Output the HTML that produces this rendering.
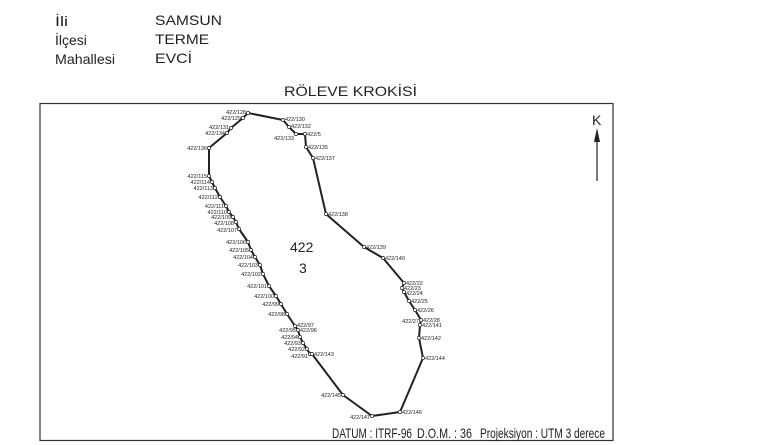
<!DOCTYPE html>
<html><head><meta charset="utf-8"><style>
html,body{margin:0;padding:0;background:#fff;}
svg{display:block;}
.h{font-family:"Liberation Sans",sans-serif;font-size:14px;fill:#222;}
.l{font-family:"Liberation Sans",sans-serif;font-size:5.5px;fill:#222;}
</style></head><body>
<svg width="772" height="445" viewBox="0 0 772 445" xmlns="http://www.w3.org/2000/svg">
<text class="h" x="55" y="26" textLength="13" lengthAdjust="spacingAndGlyphs">İli</text>
<text class="h" x="55" y="45">İlçesi</text>
<text class="h" x="55" y="64" textLength="60" lengthAdjust="spacingAndGlyphs">Mahallesi</text>
<text class="h" x="155" y="25" textLength="67" lengthAdjust="spacingAndGlyphs">SAMSUN</text>
<text class="h" x="155" y="44" textLength="54" lengthAdjust="spacingAndGlyphs">TERME</text>
<text class="h" x="155" y="63" textLength="37" lengthAdjust="spacingAndGlyphs">EVCİ</text>
<text class="h" x="284" y="96" font-size="17" textLength="133" lengthAdjust="spacingAndGlyphs">RÖLEVE KROKİSİ</text>
<rect x="40" y="103.5" width="573" height="337" fill="none" stroke="#333" stroke-width="1.2"/>
<text class="h" x="592" y="125" font-size="11">K</text>
<line x1="597" y1="140" x2="597" y2="181" stroke="#222" stroke-width="1.2"/>
<polygon points="597,128 594,142 600,142" fill="#222"/>
<text class="h" x="290" y="252" font-size="14">422</text>
<text class="h" x="299" y="273" font-size="14">3</text>
<text class="h" x="332" y="438" font-size="10" textLength="80" lengthAdjust="spacingAndGlyphs">DATUM : ITRF-96</text>
<text class="h" x="417" y="438" font-size="10" textLength="55" lengthAdjust="spacingAndGlyphs">D.O.M. : 36</text>
<text class="h" x="480" y="438" font-size="10" textLength="125" lengthAdjust="spacingAndGlyphs">Projeksiyon : UTM 3 derece</text>
<polyline fill="none" stroke="#222" stroke-width="2" stroke-linejoin="round" points="248,113 243,118 231,128 227,133 209,148 209,176 212,182 215,188 220,197 226,206 229,212 233,217 236,222 239,229 248,242 251,250 255,257 260,265 263,274 269,286 276,296 281,304 287,314 295,326 298,330 300,337 303,343 307,349 310,354 312,354 343,395 372,416 400,412 423,358 419,338 420,325 421,320 415,310 409,301 404,292 402,288 404,283 383,258 364,247 326,214 313,158 306,147 305,134 296,134 289,127 283,120 248,113"/>
<g fill="#fff" stroke="#222" stroke-width="0.7">
<circle cx="248" cy="113" r="1.6"/><circle cx="243" cy="118" r="1.6"/><circle cx="231" cy="128" r="1.6"/><circle cx="227" cy="133" r="1.6"/><circle cx="209" cy="148" r="1.6"/><circle cx="209" cy="176" r="1.6"/><circle cx="212" cy="182" r="1.6"/><circle cx="215" cy="188" r="1.6"/><circle cx="220" cy="197" r="1.6"/><circle cx="226" cy="206" r="1.6"/><circle cx="229" cy="212" r="1.6"/><circle cx="233" cy="217" r="1.6"/><circle cx="236" cy="222" r="1.6"/><circle cx="239" cy="229" r="1.6"/><circle cx="248" cy="242" r="1.6"/><circle cx="251" cy="250" r="1.6"/><circle cx="255" cy="257" r="1.6"/><circle cx="260" cy="265" r="1.6"/><circle cx="263" cy="274" r="1.6"/><circle cx="269" cy="286" r="1.6"/><circle cx="276" cy="296" r="1.6"/><circle cx="281" cy="304" r="1.6"/><circle cx="287" cy="314" r="1.6"/><circle cx="295" cy="326" r="1.6"/><circle cx="298" cy="330" r="1.6"/><circle cx="300" cy="337" r="1.6"/><circle cx="303" cy="343" r="1.6"/><circle cx="307" cy="349" r="1.6"/><circle cx="310" cy="354" r="1.6"/><circle cx="312" cy="354" r="1.6"/><circle cx="343" cy="395" r="1.6"/><circle cx="372" cy="416" r="1.6"/><circle cx="400" cy="412" r="1.6"/><circle cx="423" cy="358" r="1.6"/><circle cx="419" cy="338" r="1.6"/><circle cx="420" cy="325" r="1.6"/><circle cx="421" cy="320" r="1.6"/><circle cx="415" cy="310" r="1.6"/><circle cx="409" cy="301" r="1.6"/><circle cx="404" cy="292" r="1.6"/><circle cx="402" cy="288" r="1.6"/><circle cx="404" cy="283" r="1.6"/><circle cx="383" cy="258" r="1.6"/><circle cx="364" cy="247" r="1.6"/><circle cx="326" cy="214" r="1.6"/><circle cx="313" cy="158" r="1.6"/><circle cx="306" cy="147" r="1.6"/><circle cx="305" cy="134" r="1.6"/><circle cx="296" cy="134" r="1.6"/><circle cx="289" cy="127" r="1.6"/><circle cx="283" cy="120" r="1.6"/>
</g>
<g class="l" text-anchor="end">
<text class="l" x="246" y="114">422/128</text><text class="l" x="241" y="120">422/129</text><text class="l" x="229" y="129">422/131</text><text class="l" x="225" y="135">422/134</text><text class="l" x="207" y="150">422/136</text><text class="l" x="207" y="178">422/115</text><text class="l" x="210" y="184">422/114</text><text class="l" x="213" y="190">422/113</text><text class="l" x="218" y="199">422/112</text><text class="l" x="224" y="208">422/111</text><text class="l" x="227" y="214">422/110</text><text class="l" x="231" y="219">422/109</text><text class="l" x="234" y="225">422/108</text><text class="l" x="237" y="232">422/107</text><text class="l" x="246" y="244">422/106</text><text class="l" x="249" y="252">422/105</text><text class="l" x="253" y="259">422/104</text><text class="l" x="258" y="267">422/103</text><text class="l" x="261" y="276">422/102</text><text class="l" x="267" y="288">422/101</text><text class="l" x="274" y="298">422/100</text><text class="l" x="279" y="306">422/99</text><text class="l" x="285" y="316">422/98</text><text class="l" x="296" y="332">422/95</text><text class="l" x="298" y="339">422/94</text><text class="l" x="301" y="345">422/93</text><text class="l" x="305" y="351">422/92</text><text class="l" x="308" y="358">422/91</text><text class="l" x="341" y="397">422/145</text><text class="l" x="370" y="419">422/147</text><text class="l" x="419" y="323">422/27</text><text class="l" x="294" y="140">422/133</text>
</g>
<g class="l">
<text class="l" x="297" y="327">422/97</text><text class="l" x="300" y="332">422/96</text><text class="l" x="314" y="356">422/143</text><text class="l" x="402" y="414">422/146</text><text class="l" x="425" y="360">422/144</text><text class="l" x="421" y="340">422/142</text><text class="l" x="422" y="327">422/141</text><text class="l" x="423" y="322">422/28</text><text class="l" x="417" y="312">422/26</text><text class="l" x="411" y="303">422/25</text><text class="l" x="406" y="295">422/24</text><text class="l" x="404" y="290">422/23</text><text class="l" x="406" y="285">422/22</text><text class="l" x="385" y="260">422/140</text><text class="l" x="366" y="249">422/139</text><text class="l" x="328" y="216">422/138</text><text class="l" x="315" y="160">422/137</text><text class="l" x="308" y="149">422/135</text><text class="l" x="307" y="136">422/5</text><text class="l" x="291" y="128">422/132</text><text class="l" x="285" y="121">422/130</text>
</g>
</svg>
</body></html>
